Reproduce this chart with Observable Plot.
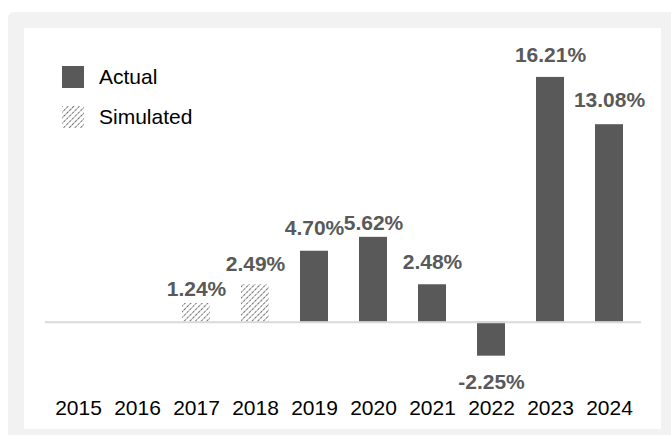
<!DOCTYPE html>
<html>
<head>
<meta charset="utf-8">
<script src="https://cdn.jsdelivr.net/npm/d3@7"></script>
<script src="https://cdn.jsdelivr.net/npm/@observablehq/plot@0.6"></script>
<style>
  html, body { margin: 0; padding: 0; background: #ffffff; overflow: hidden; width: 671px; height: 435px; }
  body { font-family: "Liberation Sans", Arial, sans-serif; position: relative; }
  #outer { position: absolute; left: 8px; top: 12px; width: 720px; height: 460px; background: #f2f2f2; border-radius: 6px; }
  #inner { position: absolute; left: 24px; top: 28px; width: 637px; height: 401px; background: #ffffff; }
  #chart { position: absolute; left: 0; top: 0; }
  .leg { position: absolute; left: 38px; display: flex; align-items: center; font-size: 21px; line-height: 24px; color: #000; }
  .leg .sw { width: 22px; height: 22px; margin-right: 15px; flex: none; }
</style>
</head>
<body>
<div id="outer"></div>
<div id="inner">
  <div id="chart"></div>
  <div class="leg" style="top:37px;"><div class="sw" style="background:#595959;"></div><span>Actual</span></div>
  <div class="leg" style="top:77px;"><svg class="sw" width="22" height="22" viewBox="0 0 22 22">
    <defs><pattern id="hatchLeg" patternUnits="userSpaceOnUse" width="4" height="4" patternTransform="rotate(45)">
      <rect width="4" height="4" fill="#ffffff"></rect>
      <line x1="0" y1="0" x2="0" y2="4" stroke="#333333" stroke-width="1.4" stroke-dasharray="2.6 0.8"></line>
    </pattern></defs>
    <rect width="22" height="22" fill="url(#hatchLeg)"></rect></svg><span>Simulated</span></div>
</div>
<script>
const years = ["2015","2016","2017","2018","2019","2020","2021","2022","2023","2024"];
const actualYears = ["2019","2020","2021","2022","2023","2024"];
const actualValues = [4.70, 5.62, 2.48, -2.25, 16.21, 13.08];
const simulatedYears = ["2017","2018"];
const simulatedValues = [1.24, 2.49];

const actual = actualYears.map((y, i) => ({year: y, value: actualValues[i]}));
const simulated = simulatedYears.map((y, i) => ({year: y, value: simulatedValues[i]}));
const all = [...simulated, ...actual];

// label placement (style): pixel gap between bar end and label centre
const labelGap = {"2017": 14, "2018": 20, "2019": 23, "2020": 14, "2021": 22, "2022": 26, "2023": 22, "2024": 24};

const defs = () => {
  const d = d3.create("svg:defs");
  const p = d.append("pattern")
    .attr("id", "hatch")
    .attr("patternUnits", "userSpaceOnUse")
    .attr("width", 4).attr("height", 4)
    .attr("patternTransform", "rotate(45)");
  p.append("rect").attr("width", 4).attr("height", 4).attr("fill", "#ffffff");
  p.append("line").attr("x1", 0).attr("y1", 0).attr("x2", 0).attr("y2", 4)
    .attr("stroke", "#333333").attr("stroke-width", 1.4).attr("stroke-dasharray", "2.6 0.8");
  return d.node();
};

const chart = Plot.plot({
  width: 637,
  height: 401,
  marginLeft: 21,
  marginRight: 20,
  marginTop: 37,
  marginBottom: 62,
  style: {fontFamily: "'Liberation Sans', Arial, sans-serif", background: "transparent", overflow: "visible"},
  x: {type: "band", domain: years, paddingInner: 0.53, paddingOuter: 0.265, label: null},
  y: {domain: [-3, 17], axis: null},
  marks: [
    defs,
    Plot.barY(simulated, {x: "year", y: "value", fill: "url(#hatch)"}),
    Plot.barY(actual, {x: "year", y: "value", fill: "#595959"}),
    Plot.ruleY([0], {stroke: "#d9d9d9", strokeWidth: 2}),
    Plot.text(all, {
      x: "year", y: "value",
      text: d => d.value.toFixed(2) + "%",
      fontSize: 21, fontWeight: "bold", fill: "#595959",
      lineAnchor: "middle"
    }),
    Plot.axisX({tickSize: 0, tickPadding: 33, fontSize: 21, color: "#000", label: null})
  ]
});

d3.select(chart).selectAll("g[aria-label='text'] text").each(function(_, i) {
  const d = all[i];
  const gap = labelGap[d.year] ?? 22;
  const t = d3.select(this);
  const tr = t.attr("transform");
  t.attr("transform", (tr ? tr + " " : "") + `translate(0,${d.value >= 0 ? -gap : gap})`);
});

document.getElementById("chart").appendChild(chart);
</script>
</body>
</html>
